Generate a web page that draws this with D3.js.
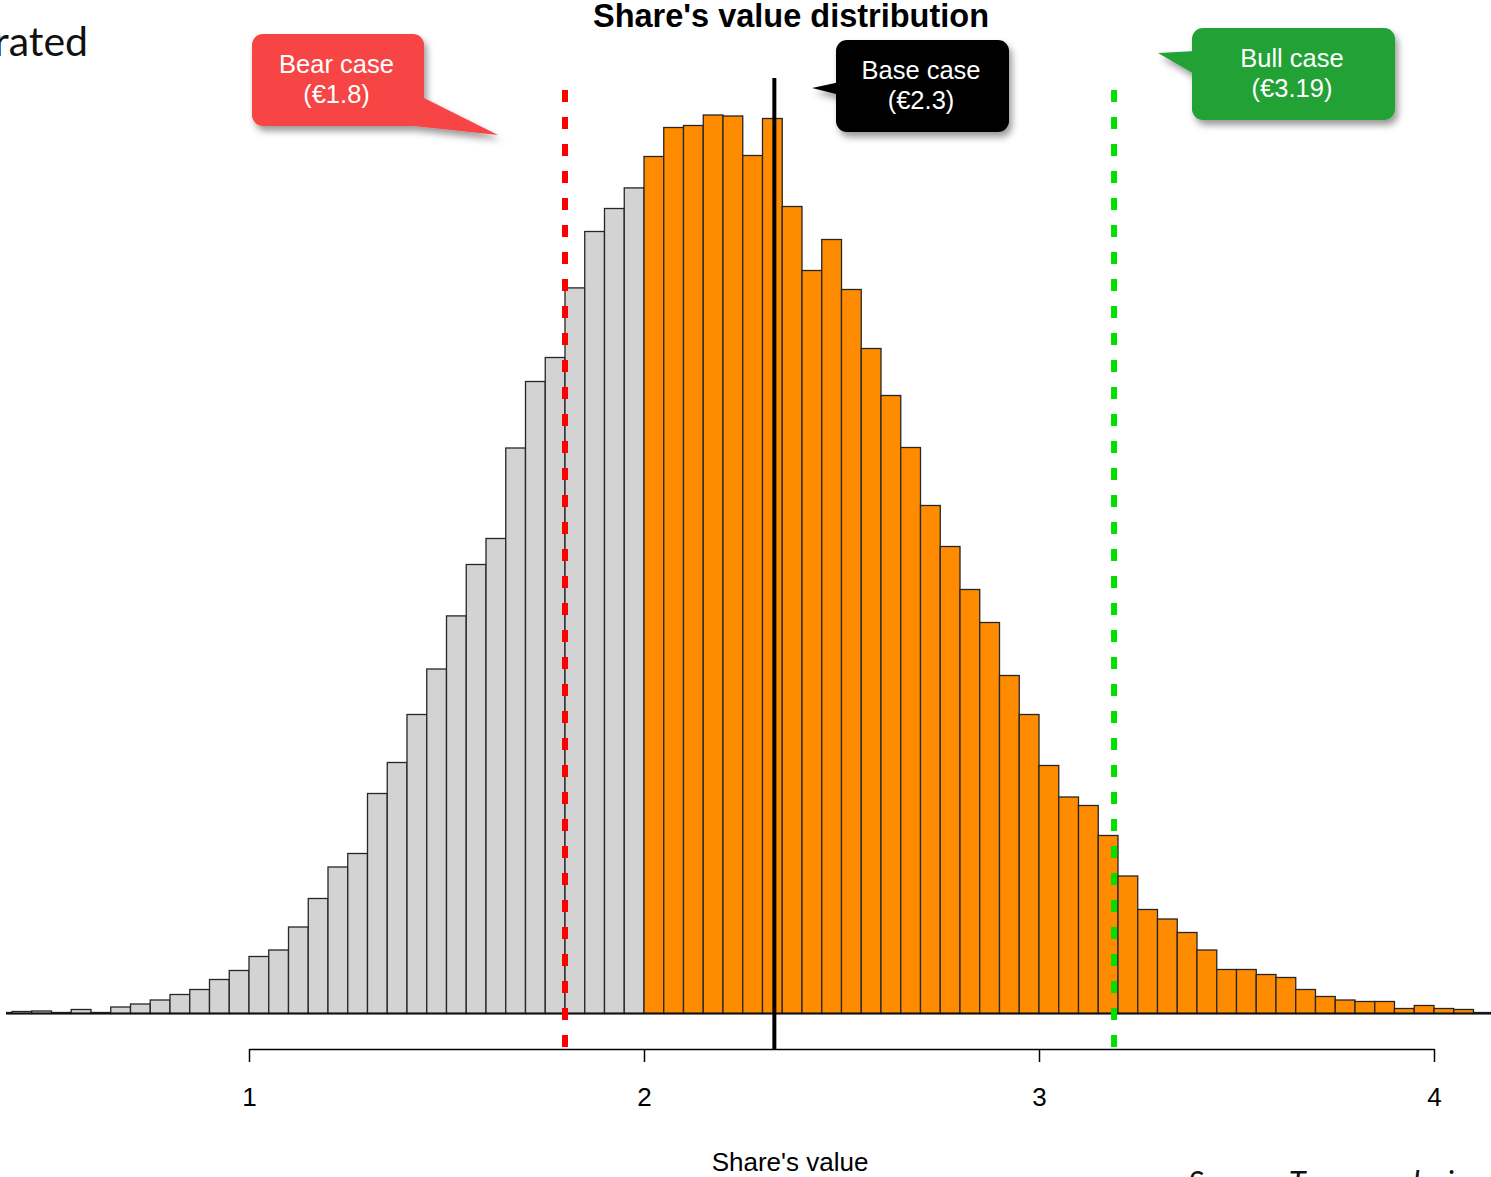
<!DOCTYPE html>
<html>
<head>
<meta charset="utf-8">
<script src="https://cdn.jsdelivr.net/npm/d3@7"></script>
<style>
  html, body { margin: 0; padding: 0; background: #fff; overflow: hidden; }
  svg { display: block; }
</style>
</head>
<body>
<svg id="chart" width="1491" height="1177"></svg>
<script>
// Histogram of simulated share values: bins of 0.05 starting at 0.35
const binStart = 0.35;
const binWidth = 0.05;
const binCounts = [
  1, 2, 2.5, 1, 4, 1, 6.5, 9.5, 13.5, 19, 24, 34, 43,
  57, 63.5, 86.5, 115, 146.5, 160, 220, 251, 299, 344.5, 397.6, 449, 475,
  565.5, 632, 656, 725.6, 782, 805, 825.6,
  857, 886, 888, 898.5, 897.5, 858, 895, 807, 743, 774, 724, 665, 618,
  566, 508, 467, 424, 391, 338, 299, 248, 216.5, 208, 178, 137.5,
  104, 94.5, 81, 63.5, 44, 44, 39, 36, 24, 17, 13.5, 12, 12, 5, 8, 5, 4, 1
];
const splitValue = 2.0;               // bins at or above this value are highlighted

// Scenario markers
const scenarioNames = ["Bear case", "Base case", "Bull case"];
const scenarioValues = [1.8, 2.33, 3.19];
const scenarioDecimals = [1, 1, 2];

// Axis
const axisTicks = [1, 2, 3, 4];
const titleText = "Share's value distribution";
const xLabelText = "Share's value";

const svg = d3.select("#chart");
const W = 1491, H = 1177;

const x = d3.scaleLinear().domain([1, 4]).range([249, 1434]);
const y = d3.scaleLinear().domain([0, 900]).range([1013.5, 113.5]);

const bins = binCounts.map((c, i) => {
  const lo = +(binStart + i * binWidth).toFixed(2);
  return { lo, hi: +(lo + binWidth).toFixed(2), count: c };
});

// drop shadow for the callouts
const defs = svg.append("defs");
const f = defs.append("filter").attr("id", "shadow")
  .attr("x", "-20%").attr("y", "-20%").attr("width", "150%").attr("height", "160%");
f.append("feDropShadow").attr("dx", 3).attr("dy", 5).attr("stdDeviation", 3.5)
  .attr("flood-color", "#000").attr("flood-opacity", 0.4);
defs.append("clipPath").attr("id", "plotClip")
  .append("rect").attr("x", 6).attr("y", 0).attr("width", W - 6).attr("height", H);

// Cut-off heading fragment in the top-left corner
svg.append("text")
  .attr("x", 88).attr("y", 56)
  .attr("text-anchor", "end")
  .attr("font-family", "Lato, 'Open Sans', sans-serif")
  .attr("font-size", 41)
  .attr("fill", "#111")
  .text("rated");

// Title
svg.append("text")
  .attr("x", 791).attr("y", 27)
  .attr("text-anchor", "middle")
  .attr("font-family", "'Liberation Sans', Arial, sans-serif")
  .attr("font-weight", "bold")
  .attr("font-size", 32.5)
  .attr("fill", "#000")
  .text(titleText);

// Bars
const plot = svg.append("g").attr("clip-path", "url(#plotClip)");
plot.selectAll("rect.bar")
  .data(bins)
  .join("rect")
  .attr("class", "bar")
  .attr("x", d => x(d.lo))
  .attr("y", d => y(d.count))
  .attr("width", d => x(d.hi) - x(d.lo))
  .attr("height", d => y(0) - y(d.count))
  .attr("fill", d => d.lo >= splitValue - 1e-9 ? "#ff8c00" : "#d3d3d3")
  .attr("stroke", "#262626")
  .attr("stroke-width", 1.3);

// Baseline
plot.append("line")
  .attr("x1", 6).attr("x2", W)
  .attr("y1", y(0)).attr("y2", y(0))
  .attr("stroke", "#111").attr("stroke-width", 2);

// X axis
const axisY = 1049;
const axisG = svg.append("g")
  .attr("transform", `translate(0,${axisY})`)
  .call(d3.axisBottom(x).tickValues(axisTicks).tickFormat(d3.format("d"))
    .tickSize(13).tickSizeOuter(0).tickPadding(26));
axisG.select(".domain").attr("stroke", "#000").attr("stroke-width", 1.5);
axisG.selectAll(".tick line").attr("stroke", "#000").attr("stroke-width", 1.5);
axisG.selectAll(".tick text")
  .attr("font-family", "'Liberation Sans', Arial, sans-serif")
  .attr("font-size", 26)
  .attr("fill", "#000");

svg.append("text")
  .attr("x", 790).attr("y", 1171)
  .attr("text-anchor", "middle")
  .attr("font-family", "'Liberation Sans', Arial, sans-serif")
  .attr("font-size", 26)
  .attr("fill", "#000")
  .text(xLabelText);

// Scenario lines
const lineStyles = [
  { color: "#ff0000", width: 6, dash: "12,15", top: 90 },
  { color: "#000000", width: 4, dash: null, top: 78 },
  { color: "#00e000", width: 6, dash: "12,15", top: 90 }
];
scenarioValues.forEach((v, i) => {
  const s = lineStyles[i];
  svg.append("line")
    .attr("x1", x(v)).attr("x2", x(v))
    .attr("y1", s.top).attr("y2", axisY)
    .attr("stroke", s.color)
    .attr("stroke-width", s.width)
    .attr("stroke-dasharray", s.dash);
});

// Callouts
const callouts = [
  { box: [252, 34, 172, 92], tail: [[420, 96], [498, 135], [404, 125]], fill: "#f74545" },
  { box: [836, 40, 173, 92], tail: [[840, 82], [812, 88], [840, 95]], fill: "#000000" },
  { box: [1192, 28, 203, 92], tail: [[1196, 51], [1158, 53], [1196, 75]], fill: "#22a136" }
];
callouts.forEach((c, i) => {
  const [bx, by, bw, bh] = c.box;
  const g = svg.append("g").attr("filter", "url(#shadow)");
  g.append("path")
    .attr("d", d3.line()(c.tail) + "Z")
    .attr("fill", c.fill);
  g.append("rect")
    .attr("x", bx).attr("y", by).attr("width", bw).attr("height", bh)
    .attr("rx", 11).attr("ry", 11)
    .attr("fill", c.fill);
  const cx = bx + bw / 2 - 1.5, cy = by + bh / 2;
  const t = svg.append("text")
    .attr("text-anchor", "middle")
    .attr("font-family", "'Liberation Sans', Arial, sans-serif")
    .attr("font-size", 25.5)
    .attr("fill", "#fff");
  t.append("tspan").attr("x", cx).attr("y", cy - 7).text(scenarioNames[i]);
  t.append("tspan").attr("x", cx).attr("y", cy + 23)
    .text(`(€${scenarioValues[i].toFixed(scenarioDecimals[i])})`);
});

// Source note at the bottom edge
svg.append("text")
  .attr("x", 1188).attr("y", 1193)
  .attr("font-family", "Lato, 'Open Sans', sans-serif")
  .attr("font-style", "italic")
  .attr("font-size", 31)
  .attr("fill", "#111")
  .text("Source: Team analysis");
</script>
</body>
</html>
